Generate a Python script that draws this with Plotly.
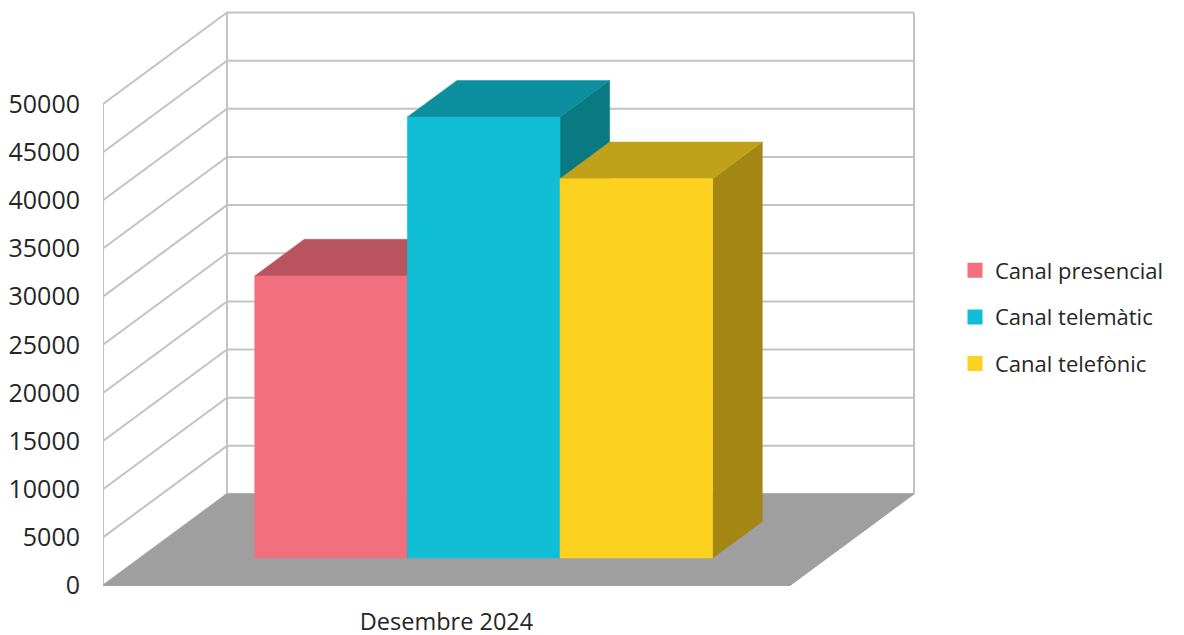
import plotly.graph_objects as go

# ---- data ----
categories = ["Desembre 2024"]
series_names = ["Canal presencial", "Canal telemàtic", "Canal telefònic"]
series_values = [29300, 45800, 39400]
y_ticks = [0, 5000, 10000, 15000, 20000, 25000, 30000, 35000, 40000, 45000, 50000]

# ---- styling ----
front_colors = ["#F2707D", "#10BED5", "#FDD11F"]
top_colors = ["#B9545E", "#0C8F9F", "#C1A11A"]
side_colors = ["#8F3F47", "#0A7A82", "#A38614"]
floor_color = "#9F9F9F"
wall_line = "#C3C3C3"
text_color = "#262626"
font_family = "Open Sans, Noto Sans, sans-serif"

# ---- oblique projection set-up ----
FIG_W, FIG_H = 1184, 635
M_L, M_T, M_B = 103, 5, 45
PLOT_W = 830
M_R = FIG_W - M_L - PLOT_W
PX = 481.5 / 50000            # pixels per value unit on the front plane
ZERO_PX = 585.5               # pixel row of value 0 on the front plane
CAT_W = 687                   # category width (x units = pixels)
DX = 124                      # horizontal shift of the full depth
DY = 91.5 / PX                # vertical shift of the full depth, in value units
D_FRONT, D_BACK = 0.3, 0.7    # depth range occupied by the columns
GAP_WIDTH = 1.5

y_min = -((FIG_H - M_B) - ZERO_PX) / PX
y_max = (ZERO_PX - M_T) / PX
y_top = max(y_ticks)

fig = go.Figure()

# walls: gridlines on the back wall and the side wall, plus edges
gx, gy = [], []
for v in y_ticks:
    gx += [0, DX, DX + CAT_W, None]
    gy += [v, v + DY, v + DY, None]
gx += [0, 0, None, DX, DX, None, DX + CAT_W, DX + CAT_W, None]
gy += [0, y_top, None, DY, DY + y_top, None, DY, DY + y_top, None]
fig.add_trace(go.Scatter(x=gx, y=gy, mode="lines",
                         line=dict(color=wall_line, width=2),
                         hoverinfo="skip", showlegend=False))

# floor
fig.add_trace(go.Scatter(x=[0, CAT_W, CAT_W + DX, DX, 0],
                         y=[0, 0, DY, DY, 0],
                         mode="lines", fill="toself", fillcolor=floor_color,
                         line=dict(color=floor_color, width=1),
                         hoverinfo="skip", showlegend=False))

# columns
n = len(series_values)
bar_w = CAT_W / (n + GAP_WIDTH)
start = GAP_WIDTH / 2 * bar_w
ax, ay = D_FRONT * DX, D_FRONT * DY
bx, by = D_BACK * DX, D_BACK * DY


def face(xs, ys, color, name):
    fig.add_trace(go.Scatter(x=xs + [xs[0]], y=ys + [ys[0]], mode="lines",
                             fill="toself", fillcolor=color,
                             line=dict(color=color, width=0.5),
                             name=name, hoverinfo="name+text",
                             showlegend=False))


for i, (name, v) in enumerate(zip(series_names, series_values)):
    x0 = start + i * bar_w
    x1 = x0 + bar_w
    # right side
    face([x1 + ax, x1 + bx, x1 + bx, x1 + ax],
         [ay, by, v + by, v + ay], side_colors[i], name)
    # top
    face([x0 + ax, x1 + ax, x1 + bx, x0 + bx],
         [v + ay, v + ay, v + by, v + by], top_colors[i], name)
    # front
    face([x0 + ax, x1 + ax, x1 + ax, x0 + ax],
         [ay, ay, v + ay, v + ay], front_colors[i], name)

# legend entries
for i, name in enumerate(series_names):
    fig.add_trace(go.Scatter(x=[None], y=[None], mode="markers", name=name,
                             marker=dict(symbol="square", size=15,
                                         color=front_colors[i]),
                             legendgroup=f"g{i}", showlegend=True))

fig.update_layout(
    width=FIG_W, height=FIG_H,
    margin=dict(l=M_L, r=M_R, t=M_T, b=M_B, pad=0, autoexpand=False),
    paper_bgcolor="white", plot_bgcolor="white",
    font=dict(family=font_family, color=text_color),
    showlegend=True,
    legend=dict(x=(955 - M_L) / PLOT_W, xanchor="left",
                y=((FIG_H - M_B) - 317) / (FIG_H - M_T - M_B), yanchor="middle",
                font=dict(size=22, color=text_color, family=font_family),
                tracegroupgap=15, bgcolor="rgba(0,0,0,0)"),
    xaxis=dict(range=[0, PLOT_W], showgrid=False, zeroline=False,
               showline=False, ticks="", tickvals=[CAT_W / 2],
               ticktext=categories, ticklabelstandoff=15, automargin=False,
               tickfont=dict(size=23.5, color=text_color, family=font_family),
               fixedrange=True),
    yaxis=dict(range=[y_min, y_max], showgrid=False, zeroline=False,
               showline=False, ticks="", tickvals=y_ticks,
               ticktext=[str(t) for t in y_ticks], ticklabelstandoff=22,
               automargin=False,
               tickfont=dict(size=25, color=text_color, family=font_family),
               fixedrange=True),
)

fig.write_html("out.html")
